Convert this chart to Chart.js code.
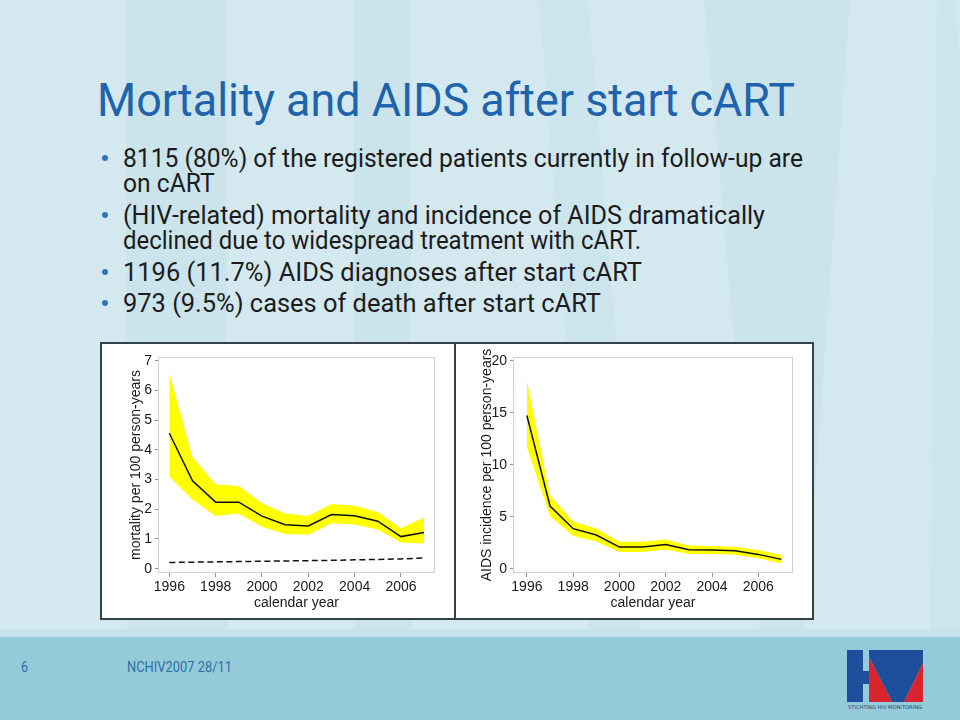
<!DOCTYPE html>
<html><head><meta charset="utf-8">
<script src="https://cdn.jsdelivr.net/npm/chart.js@4/dist/chart.umd.min.js"></script>
<style>
html,body{margin:0;padding:0;}
body{width:960px;height:720px;position:relative;overflow:hidden;background:#d4e8ef;font-family:Roboto,"Liberation Sans",Arial,sans-serif;}
#bg{position:absolute;left:0;top:0;}
.t{position:absolute;white-space:nowrap;transform-origin:0 50%;}
#title{left:97px;top:76px;font-size:47px;line-height:47px;color:#1f63ad;}
.b{left:123px;font-size:26px;line-height:26px;color:#1c1c1c;}
.dot{position:absolute;left:102px;width:6px;height:6px;border-radius:50%;background:#2f74b8;}
#panel{position:absolute;left:100px;top:342px;width:714px;height:278px;box-sizing:border-box;background:#fff;border:2px solid #34424a;}
#divider{position:absolute;left:454px;top:343px;width:2px;height:276px;background:#34424a;}
canvas{position:absolute;}
#strip{position:absolute;left:0;top:629px;width:960px;height:8px;background:#c6e2ea;}
#footer{position:absolute;left:0;top:637px;width:960px;height:83px;background:#95cbd9;}
.f{color:#2f6ea6;font-size:14px;line-height:14px;top:660px;}
#logo{position:absolute;left:840px;top:645px;}
</style>
</head><body>
<svg id="bg" width="960" height="630">
  <rect x="127" y="0" width="100" height="630" fill="#cbe4eb"/>
  <rect x="354" y="0" width="57" height="630" fill="#cbe4eb"/>
  <polygon points="539,0 588,0 640,630 590,630" fill="#cce5ec"/>
  <polygon points="704,0 850,0 805,630 760,630" fill="#cbe4eb"/>
  <polygon points="937,0 955,0 960,60 960,630 930,630" fill="#cce5ec"/>
</svg>

<div id="title" class="t" data-w="698">Mortality and AIDS after start cART</div>
<div class="dot" style="top:155px"></div>
<div id="b1" class="t b" style="top:145px" data-w="680">8115 (80%) of the registered patients currently in follow-up are</div>
<div class="t b" style="top:170px" data-s="b1">on cART</div>
<div class="dot" style="top:212px"></div>
<div class="t b" style="top:202px" data-w="642">(HIV-related) mortality and incidence of AIDS dramatically</div>
<div class="t b" style="top:227px" data-w="518">declined due to widespread treatment with cART.</div>
<div class="dot" style="top:269px"></div>
<div class="t b" style="top:259px" data-w="519">1196 (11.7%) AIDS diagnoses after start cART</div>
<div class="dot" style="top:300px"></div>
<div class="t b" style="top:290px" data-w="478">973 (9.5%) cases of death after start cART</div>

<div id="panel"></div>
<div id="divider"></div>
<canvas id="c1" width="352" height="274" style="left:102px;top:344px"></canvas>
<canvas id="c2" width="356" height="274" style="left:456px;top:344px"></canvas>

<div id="strip"></div>
<div id="footer"></div>
<div class="t f" style="left:21px" data-w="7">6</div>
<div class="t f" style="left:127px" data-w="105">NCHIV2007 28/11</div>
<svg id="logo" width="90" height="70">
  <rect x="7" y="5" width="16" height="52" fill="#1d4f9c"/>
  <rect x="23" y="26" width="6" height="13" fill="#1d4f9c"/>
  <polygon points="29,5 83,5 83,18 64,57 52,57 29,12" fill="#1d4f9c"/>
  <polygon points="29,12 52,57 29,57" fill="#d9232e"/>
  <polygon points="83,18 83,57 64,57" fill="#d9232e"/>
  <text x="45" y="64" font-size="5" text-anchor="middle" fill="#1d3f70" font-family="DejaVu Sans" textLength="74" lengthAdjust="spacingAndGlyphs">STICHTING HIV MONITORING</text>
</svg>

<script>
// ---------- data ----------
const years = [1996, 1997, 1998, 1999, 2000, 2001, 2002, 2003, 2004, 2005, 2006, 2007];
const xTickYears = [1996, 1998, 2000, 2002, 2004, 2006];

const mortality      = [4.56, 2.96, 2.24, 2.24, 1.77, 1.48, 1.44, 1.82, 1.78, 1.60, 1.08, 1.22];
const mortalityUpper = [6.58, 3.75, 2.83, 2.78, 2.20, 1.86, 1.77, 2.18, 2.12, 1.91, 1.36, 1.72];
const mortalityLower = [3.10, 2.33, 1.77, 1.86, 1.41, 1.17, 1.14, 1.53, 1.49, 1.32, 0.88, 0.85];
const generalPopMortality = [0.21, 0.22, 0.23, 0.24, 0.25, 0.26, 0.27, 0.28, 0.30, 0.31, 0.33, 0.36];
const mortalityTicks = [0, 1, 2, 3, 4, 5, 6, 7];

const aidsIncidence = [14.74, 6.03, 3.85, 3.24, 2.08, 2.08, 2.34, 1.83, 1.80, 1.73, 1.38, 0.90];
const aidsUpper     = [18.10, 7.05, 4.55, 3.88, 2.60, 2.60, 2.82, 2.24, 2.18, 2.12, 1.80, 1.31];
const aidsLower     = [11.70, 5.06, 3.14, 2.63, 1.60, 1.60, 1.86, 1.41, 1.41, 1.35, 1.00, 0.51];
const aidsTicks = [0, 5, 10, 15, 20];

// ---------- fit text widths ----------
const scales = {};
document.querySelectorAll('[data-w]').forEach(el => {
  const w = el.getBoundingClientRect().width;
  const k = w > 0 ? (+el.dataset.w / w) : 1;
  if (el.id) scales[el.id] = k;
  el.style.transform = 'scaleX(' + k + ')';
});
document.querySelectorAll('[data-s]').forEach(el => {
  el.style.transform = 'scaleX(' + (scales[el.dataset.s] || 1) + ')';
});

// ---------- charts ----------
const pts = arr => arr.map((v, i) => ({x: years[i], y: v}));
const tickFont = {family: "'Liberation Sans', Arial, sans-serif", size: 14};
const ink = '#1a1a1a';

const framePlugin = {
  id: 'frame',
  beforeDatasetsDraw(chart) {
    const a = chart.chartArea, ctx = chart.ctx;
    ctx.save();
    ctx.strokeStyle = '#d2d2d2';
    ctx.lineWidth = 1;
    ctx.strokeRect(a.left + 0.5, a.top + 0.5, a.right - a.left - 1, a.bottom - a.top - 1);
    ctx.restore();
  }
};

function makeChart(id, o) {
  new Chart(document.getElementById(id), {
    type: 'line',
    data: {
      datasets: [
        {data: pts(o.upper), borderWidth: 0, pointRadius: 0, backgroundColor: '#ffff00', fill: '+1', tension: 0},
        {data: pts(o.lower), borderWidth: 0, pointRadius: 0, fill: false, tension: 0},
        {data: pts(o.rate), borderColor: '#111', borderWidth: 1.5, pointRadius: 0, fill: false, tension: 0},
      ].concat(o.ref ? [{data: pts(o.ref), borderColor: '#111', borderWidth: 1.5, borderDash: [6, 3.5], pointRadius: 0, fill: false, tension: 0}] : [])
    },
    options: {
      responsive: false,
      animation: false,
      layout: {padding: {top: 13, right: 19, left: 0, bottom: 0}},
      plugins: {legend: {display: false}, tooltip: {enabled: false}, filler: {drawTime: 'beforeDatasetsDraw'}},
      scales: {
        x: {
          type: 'linear', min: o.xmin, max: o.xmax,
          afterBuildTicks: s => { s.ticks = xTickYears.map(v => ({value: v})); },
          afterFit: s => { s.height = 45; },
          grid: {display: true, drawOnChartArea: false, drawTicks: true, tickLength: 4, color: '#8c8c8c'},
          border: {display: false},
          ticks: {font: tickFont, color: ink, padding: 2, maxRotation: 0, autoSkip: false, callback: v => String(v)},
          title: {display: true, text: 'calendar year', font: tickFont, color: ink, padding: {top: 0, bottom: 6}}
        },
        y: {
          type: 'linear', min: o.ymin, max: o.ymax,
          afterBuildTicks: s => { s.ticks = o.yticks.map(v => ({value: v})); },
          afterFit: s => { s.width = o.yw; },
          grid: {display: true, drawOnChartArea: false, drawTicks: true, tickLength: 3, color: '#8c8c8c'},
          border: {display: false},
          ticks: {font: tickFont, color: ink, padding: 3, callback: v => String(v)},
          title: {display: true, text: o.ytitle, font: tickFont, color: ink, padding: {top: o.titlePad, bottom: 0}}
        }
      }
    },
    plugins: [framePlugin]
  });
}

makeChart('c1', {
  upper: mortalityUpper, lower: mortalityLower, rate: mortality, ref: generalPopMortality,
  xmin: 1995.51, xmax: 2007.47, ymin: -0.145, ymax: 7.125, yticks: mortalityTicks,
  yw: 56, titlePad: 25.3, ytitle: 'mortality per 100 person-years'
});
makeChart('c2', {
  upper: aidsUpper, lower: aidsLower, rate: aidsIncidence,
  xmin: 1995.4, xmax: 2007.5, ymin: -0.41, ymax: 20.36, yticks: aidsTicks,
  yw: 57, titlePad: 22.3, ytitle: 'AIDS incidence per 100 person-years'
});
</script>
</body></html>
